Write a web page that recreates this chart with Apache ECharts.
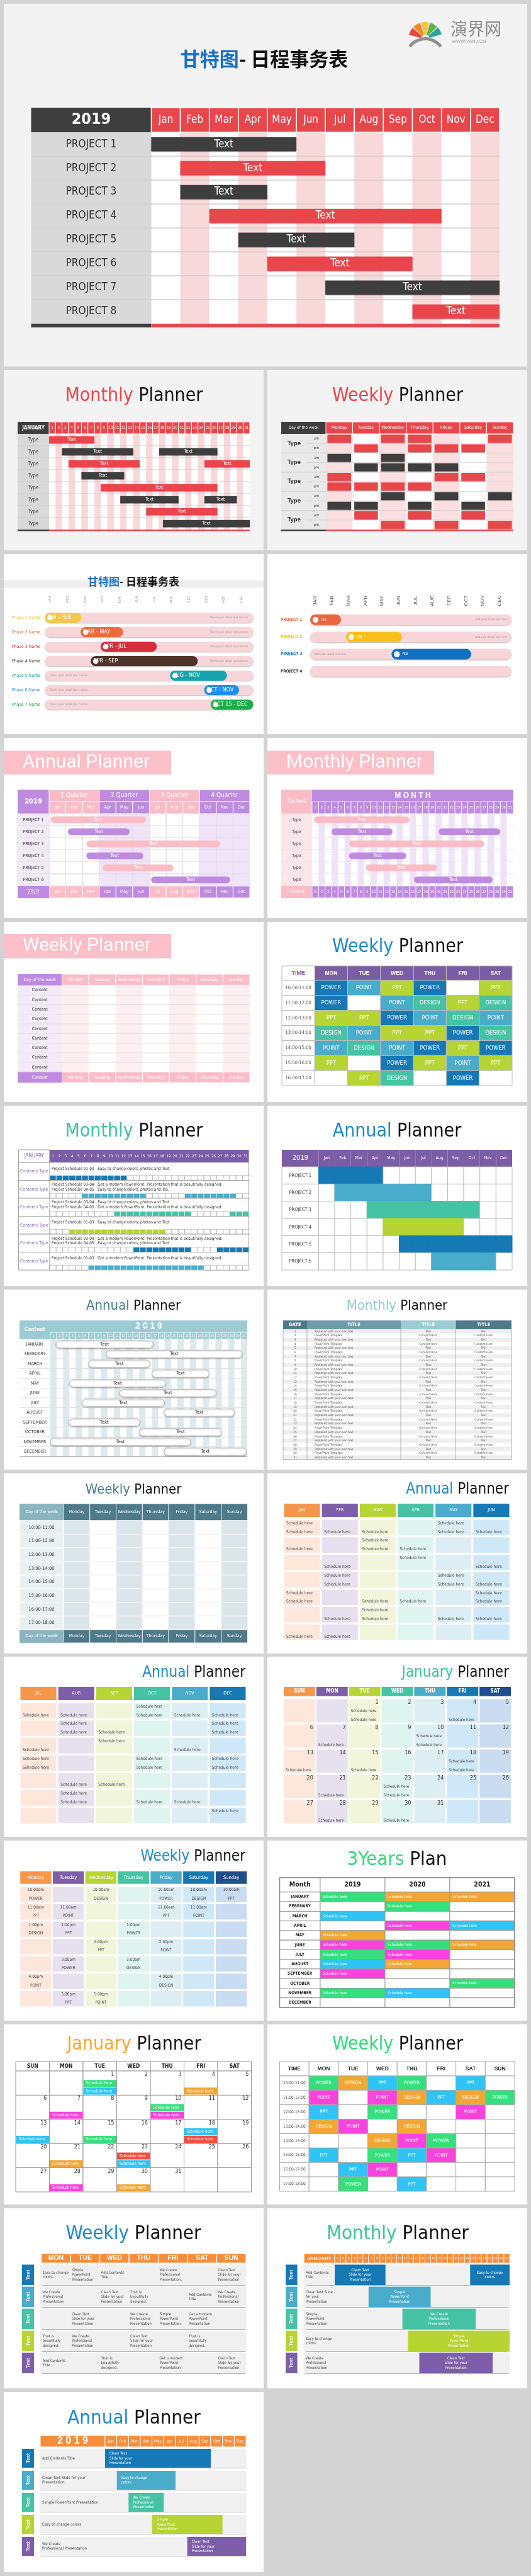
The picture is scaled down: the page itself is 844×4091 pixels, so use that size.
<!DOCTYPE html>
<html><head><meta charset="utf-8">
<script src="https://cdn.jsdelivr.net/npm/echarts@6/dist/echarts.min.js"></script>
<style>html,body{margin:0;padding:0;background:#d3d3d3}#c{width:844px;height:4091px}</style>
</head><body><div id="c"></div>
<script>
// ================= DATA =================
const DAYS31=['1','2','3','4','5','6','7','8','9','10','11','12','13','14','15','16','17','18','19','20','21','22','23','24','25','26','27','28','29','30','31'];
const MONTHS=['Jan','Feb','Mar','Apr','May','Jun','Jul','Aug','Sep','Oct','Nov','Dec'];
const MONTHS_UP=['JAN','FEB','MAR','APR','MAY','JUN','JUL','AUG','SEP','OCT','NOV','DEC'];
const MONTH_NAMES=['JANUARY','FEBRUARY','MARCH','APRIL','MAY','JUNE','JULY','AUGUST','SEPTEMBER','OCTOBER','NOVEMBER','DECEMBER'];
const WEEKDAYS=['Monday','Tuesday','Wednesday','Thursday','Friday','Saturday','Sunday'];

// 1. 甘特图 main
const ganttProjects=['PROJECT 1','PROJECT 2','PROJECT 3','PROJECT 4','PROJECT 5','PROJECT 6','PROJECT 7','PROJECT 8'];
const ganttStart=[0,1,1,2,3,4,6,9];
const ganttEnd=[5,6,4,10,7,9,12,12];
const ganttBarText=['Text','Text','Text','Text','Text','Text','Text','Text'];

// 2L monthly red  [row,startDay,endDay,kind]
const mrTypes=['Type','Type','Type','Type','Type','Type','Type','Type'];
const mrBars=[[0,0,7,'r'],[1,2,13,'d'],[1,17,26,'d'],[2,3,14,'r'],[2,24,31,'r'],[3,5,11.6,'d'],[4,8,26,'r'],[5,11,20,'d'],[5,24,29,'d'],[6,15,26,'r'],[7,17.6,31,'d']];
// 2R weekly red (10 half-day rows)
const wrTypes=['Type','Type','Type','Type','Type'];
const wrSlots=['am','pm'];
const wrRed=[[0,2,3,6],[1,3,4,5],[],[],[0,4,5],[0,1,2,3],[],[],[1,3,5],[2,4,6]];
const wrDark=[[],[],[0,2],[1,2,3,4],[],[],[2,4,6],[0,1,3,5],[],[]];

// 3L phases
const phNames=['Phase 1 Name','Phase 2 Name','Phase 3 Name','Phase 4 Name','Phase 5 Name','Phase 6 Name','Phase 7 Name'];
const phStart=[0,2.05,3.2,2.63,7.2,9.17,9.54];
const phEnd=[2.1,4.5,6.44,8.8,10.48,11.18,12];
const phLabels=['JAN - FEB','MAR - MAY','APR - JUL','APR - SEP','AUG - NOV','OCT - NOV','OCT 15 - DEC'];
const phDetail='This is your detail text column.';
// 3R projects
const prNames=['PROJECT 1','PROJECT 2','PROJECT 3','PROJECT 4'];
const prStart=[0,2.13,4.85];
const prEnd=[1.84,5.48,9.6];
const prLabels=['JAN - FEB','JAN - FEB','JAN - FEB'];
const prDetail='Add your detail text here';

// 4L annual pink
const aqQuarters=['1 Quarter','2 Quarter','3 Quarter','4 Quarter'];
const aqProjects=['PROJECT 1','PROJECT 2','PROJECT 3','PROJECT 4','PROJECT 5','PROJECT 6'];
const aqStart=[0.08,1.13,2.23,2.23,3.2,6.1];
const aqEnd=[5.8,4.82,10.24,5.63,7.45,10.83];
// 4R monthly pink [row,start,end]
const mpTypes=['Type','Type','Type','Type','Type','Type'];
const mpBars=[[0,0.3,15],[1,3,12.4],[1,19.5,29],[2,5.7,26.5],[3,5.7,14.5],[4,8.3,19.2],[5,15.7,27.8]];

// 5L weekly pink
const wpRows=['Content','Content','Content','Content','Content','Content','Content','Content','Content'];
// 5R weekly blue
const wbDays=['MON','TUE','WED','THU','FRI','SAT'];
const wbTimes=['10:00-11:00','11:00-12:00','12:00-13:00','13:00-14:00','14:00-15:00','15:00-16:00','16:00-17:00'];
const wbGrid=[
 ['POWER','POINT','PPT','POWER','','PPT'],
 ['POWER','','POINT','DESIGN','PPT','DESIGN'],
 ['PPT','PPT','POWER','POINT','DESIGN','POINT'],
 ['DESIGN','POINT','PPT','PPT','POWER','DESIGN'],
 ['POINT','DESIGN','POINT','POWER','PPT','POWER'],
 ['PPT','','POWER','PPT','POINT','PPT'],
 ['','PPT','DESIGN','','POWER','']];

// 6L monthly teal schedules
const msText=[
 ['Project Schedule 01-03   Easy to change colors, photos and Text.'],
 ['Project Schedule 03-04   Get a modern PowerPoint  Presentation that is beautifully designed.','Project Schedule 04-05   Easy to change colors, photos and Tex.'],
 ['Project Schedule 03-04   Easy to change colors, photos and Text','Project Schedule 04-05   Get a modern PowerPoint  Presentation that is beautifully designed.'],
 ['Project Schedule 01-03   Easy to change colors, photos and Text'],
 ['Project Schedule 03-04   Get a modern PowerPoint  Presentation that is beautifully designed.','Project Schedule 04-05   Easy to change colors, photos and Text'],
 ['Project Schedule 01-03   Get a modern PowerPoint  Presentation that is beautifully designed.']];
const msSpans=[[[0,12]],[[5,15],[21,29]],[[10,22],[28,31]],[[3,18]],[[13,22],[26,31]],[[6,24]]];
// 6R annual blocks
const abProjects=['PROJECT 1','PROJECT 2','PROJECT 3','PROJECT 4','PROJECT 5','PROJECT 6'];
const abStart=[0,1,3,4,5,7];
const abEnd=[4,7,10,9,12,11];

// 7L annual slate (months x days)
const asStart=[0.9,8.8,6,16,3,10.9,5,17.9,2.9,14,0,17.9];
const asEnd=[16.2,30.2,15.7,25,18.2,26.1,18,29,14.1,27,22.1,30.9];
// 7R monthly table
const mtDates=['1','2','3','4','5','6','7','8','9','10','11','12','13','14','15','16','17','18','19','20','21','22','23','24','25','26','27','28','29','30','31'];
const mtHead=['DATE','TITLE','TITLE','TITLE'];
const mtText1=['Replaced with your own text.','PowerPoint Template'];
const mtText2=['Text','Content Here'];

// 8L weekly slate
const wsTimes=['10:00-11:00','11:00-12:00','12:00-13:00','13:00-14:00','14:00-15:00','15:00-16:00','16:00-17:00','17:00-18:00'];
// 8R / 9L annual colourful ("Schedule here": 0 none,1 top,2 bottom,3 both)
const ahMonths1=['JAN','FEB','MAR','APR','MAY','JUN'];
const ahGrid1=['322032','203200','020102','030032','302203','023022','220000'];
const ahMonths2=['JUL','AUG','SEP','OCT','NOV','DEC'];
const ahGrid2=['220322','032003','201020','300303','022000','030220','000001'];

// 9R January calendar (colourful)  date -> number of entries
const calDays=['SUN','MON','TUE','WED','THU','FRI','SAT'];
const calFirstWeekday=2, calLength=31;
const jcSched={1:2,4:1,7:1,10:2,13:1,15:1,18:2,21:1,23:2,28:1,30:1};

// 10L weekly colourful [row,col,time,label]
const wcEvents=[[0,0,'10:00am','POWER'],[0,2,'10:00am','DESIGN'],[0,4,'10:00am','POWER'],[0,5,'10:00am','DESIGN'],[0,6,'10:00am','PPT'],
 [1,0,'11:00am','PPT'],[1,1,'11:00am','POINT'],[1,4,'11:00am','PPT'],[1,5,'11:00am','POINT'],
 [2,0,'1:00pm','DESIGN'],[2,1,'1:00pm','PPT'],[2,3,'1:00pm','POWER'],
 [3,2,'2:00pm','PPT'],[3,4,'2:00pm','POINT'],
 [4,1,'3:00pm','POWER'],[4,3,'3:00pm','DESIGN'],
 [5,0,'4:00pm','POINT'],[5,4,'4:00pm','DESIGN'],
 [6,1,'5:00pm','PPT'],[6,2,'5:00pm','POINT']];
// 10R 3 years plan
const ypYears=['2019','2020','2021'];
const ypGrid=['GOO','-G-','C--','-MC','O--','MGO','GM-','CO-','M--','--G','GC-','---'];

// 11L January calendar [date,slot,colour]
const jeEvents=[[1,1,'G'],[1,2,'C'],[4,2,'O'],[7,2,'M'],[10,1,'G'],[10,2,'M'],[13,2,'C'],[15,2,'G'],[18,1,'C'],[18,2,'R'],[21,2,'O'],[23,1,'R'],[23,2,'C'],[28,2,'M'],[30,2,'O']];
// 11R weekly green
const wgDays=['MON','TUE','WED','THU','FRI','SAT','SUN'];
const wgGrid=[
 ['POWER','DESIGN','PPT','POWER','','PPT',''],
 ['POINT','','POINT','DESIGN','PPT','DESIGN','POWER'],
 ['PPT','','POWER','','','POINT',''],
 ['DESIGN','POINT','','DESIGN','','',''],
 ['','','DESIGN','POINT','POWER','',''],
 ['PPT','','POWER','PPT','POINT','',''],
 ['','PPT','POINT','','','',''],
 ['','POWER','','PPT','','','']];

// 12L weekly orange
const woDays=['MON','TUE','WED','THU','FRI','SAT','SUN'];
const woTexts=[
 ['Easy to change\ncolors.','Simple\nPowerPoint\nPresentation','Add Contents\nTitle','','We Create\nProfessional\nPresentation.','','Clean Text\nSlide for your\nPresentation'],
 ['We Create\nProfessional\nPresentation','','Clean Text\nSlide for your\nPresentation','That is\nbeautifully\ndesigned.','','Add Contents\nTitle','We Create\nProfessional\nPresentation'],
 ['','Clean Text\nSlide for your\nPresentation','','We Create\nProfessional\nPresentation','Simple\nPowerPoint\nPresentation','Get a modern\nPowerPoint\nPresentation',''],
 ['That is\nbeautifully\ndesigned.','We Create\nProfessional\nPresentation','','Clean Text\nSlide for your\nPresentation','','That is\nbeautifully\ndesigned.',''],
 ['Add Contents\nTitle','','That is\nbeautifully\ndesigned.','','Get a modern\nPowerPoint\nPresentation','','Clean Text\nSlide for your\nPresentation']];
// 12R monthly orange
const moLabels=['Add Contents\nTitle','Clean Text Slide\nfor your\nPresentation','Simple\nPowerPoint\nPresentation','Easy to change\ncolors','We Create\nProfessional\nPresentation'];
const moBars=[[0,0,9,'Clean Text\nSlide for your\nPresentation'],[0,24,31,'Easy to change\ncolors'],[1,6,17,'Simple\nPowerPoint\nPresentation'],[2,12,25,'We Create\nProfessional\nPresentation'],[3,13,31,'Simple\nPowerPoint\nPresentation'],[4,15,28,'Clean Text\nSlide for your\nPresentation']];
// 13 annual orange
const aoLabels=['Add Contents Title','Clean Text Slide for your\nPresentation','Simple PowerPoint Presentation','Easy to change colors','We Create\nProfessional Presentation'];
const aoStart=[0,1,2,4,7];
const aoEnd=[9,6,5,10,12];
const aoText=['Clean Text\nSlide for your\nPresentation','Easy to change\ncolors','We Create\nProfessional\nPresentation','Simple\nPowerPoint\nPresentation','Clean Text\nSlide for your\nPresentation'];

// ================= STYLE =================
const NF="'Liberation Sans Narrow','DejaVu Sans Condensed','Liberation Sans',Arial,sans-serif";
const SF="'Liberation Sans',Arial,'DejaVu Sans',sans-serif";
const RF="Roboto,'Liberation Sans',sans-serif";
const CJK="'Noto Sans CJK SC','Noto Sans',sans-serif";
const RED='#e8464b', DARK='#3e3e3e', PUR='#bf8be0', PINK='#fbbcc6';
const BLUE_T='#1e88c8', TEAL_T='#3ec1a1', SLATE='#4e7a8a';
const KEYC={POWER:'#1679b6',POINT:'#4aaccb',PPT:'#b6d433',DESIGN:'#46c3a4'};
const HEAD7=['#f5964b','#7e5ea8','#b6d433','#46c3a4','#4aaccb','#1679b6','#1f4e8c'];
const SOFT7=['#fde7da','#e7e1ef','#f1f6da','#def4ee','#dceef4','#cfe8f8','#c9dcf1'];
const VIVID={G:'#35e07c',O:'#f2a735',M:'#fa42dc',C:'#2fc4f5',R:'#f24f3c'};
const VKEY={POWER:'G',DESIGN:'O',PPT:'C',POINT:'M'};
const TAB5=['#1679b6','#4aaccb','#46c3a4','#b6d433','#7e5ea8'];
const ORANGE='#f68d3a';

// ================= ENGINE =================
const grids=[],xAxes=[],yAxes=[],series=[],graphics=[];
function C(x0,x1,y0,y1,o){return Object.assign({x0:x0,x1:x1,y0:y0,y1:y1},o||{});}
function renderCell(c,api){
  const p0=api.coord([c.x0,c.y0]), p1=api.coord([c.x1,c.y1]);
  let x=Math.min(p0[0],p1[0]), y=Math.min(p0[1],p1[1]), w=Math.abs(p1[0]-p0[0]), h=Math.abs(p1[1]-p0[1]);
  const ix=c.ix||0, iy=c.iy||0; x+=ix; w-=2*ix; y+=iy; h-=2*iy;
  const ch=[];
  if(c.line){
    ch.push({type:'line',shape:{x1:p0[0],y1:p0[1],x2:p1[0],y2:p1[1]},style:{stroke:c.stroke,lineWidth:c.lw||1}});
  } else if(c.fill||c.stroke){
    const st={fill:c.fill||'none',stroke:c.stroke||'none',lineWidth:c.lw||1};
    if(c.shadow){st.shadowBlur=c.shadow;st.shadowColor='rgba(0,0,0,0.28)';st.shadowOffsetY=1;}
    ch.push({type:'rect',shape:{x:x,y:y,width:w,height:h,r:c.r||0},style:st});
  }
  if(c.text!=null&&c.text!==''){
    const al=c.align||'center', va=c.va||'middle', px=c.px!=null?c.px:3, py=c.py!=null?c.py:2, fs=c.fs||10;
    const tx=al==='left'?x+px:al==='right'?x+w-px:x+w/2;
    const ty=va==='top'?y+py:va==='bottom'?y+h-py:y+h/2;
    ch.push({type:'text',x:tx,y:ty,rotation:c.rot||0,style:{text:c.text,fill:c.tc||'#333',fontSize:fs,fontFamily:c.ff||NF,fontWeight:c.fw||'normal',align:al,verticalAlign:va,lineHeight:c.lh||Math.round(fs*1.18)}});
  }
  if(c.dot){ch.push({type:'circle',shape:{cx:x+h*0.5,cy:y+h/2,r:h*0.27},style:{fill:'#fff'}});}
  return {type:'group',children:ch};
}
function addTable(box,xr,yr,cells){
  const gi=grids.length;
  grids.push({left:box[0],top:box[1],width:box[2]-box[0],height:box[3]-box[1]});
  xAxes.push({type:'value',gridIndex:gi,min:xr[0],max:xr[1],show:false,splitLine:{show:false}});
  yAxes.push({type:'value',gridIndex:gi,min:yr[0],max:yr[1],inverse:true,show:false,splitLine:{show:false}});
  series.push({type:'custom',coordinateSystem:'cartesian2d',xAxisIndex:gi,yAxisIndex:gi,silent:true,animation:false,clip:false,progressive:0,
    data:cells.map(c=>[c.x0,c.y0,c.x1,c.y1]),encode:{x:[0,2],y:[1,3]},
    renderItem:(p,api)=>renderCell(cells[p.dataIndex],api)});
}
function title2(x,y,a,ca,b,cb,fs,align,ff,fw){
  graphics.push({type:'text',x:x,y:y,z:50,style:{text:'{a|'+a+'}{b|'+b+'}',
    rich:{a:{fill:ca,fontSize:fs,fontFamily:ff||NF,fontWeight:fw||'normal'},b:{fill:cb,fontSize:fs,fontFamily:ff||NF,fontWeight:fw||'normal'}},
    align:align||'center',verticalAlign:'middle'}});
}
function banner(x,y,w,h,txt){
  graphics.push({type:'rect',z:1,shape:{x:x,y:y,width:w,height:h},style:{fill:'#fbbfc8'}});
  graphics.push({type:'text',z:50,x:x+30,y:y+h/2,style:{text:txt,fill:'#fff',fontSize:30,fontFamily:RF,align:'left',verticalAlign:'middle'}});
}

// ================= PANELS (backgrounds) =================
const RY=[588,880,1172,1464,1756,2048,2340,2631,2923,3215,3507,3799];
graphics.push({type:'rect',z:0,shape:{x:6,y:6,width:832,height:576},style:{fill:'#f3f3f3'}});
RY.forEach((y,i)=>{
  const f=i===0?'#f3f3f3':'#ffffff';
  graphics.push({type:'rect',z:0,shape:{x:6,y:y,width:413,height:286},style:{fill:f}});
  if(i<11) graphics.push({type:'rect',z:0,shape:{x:425,y:y,width:413,height:286},style:{fill:f}});
});

// ================= 1. main gantt =================
title2(420,93,'甘特图','#1a6fc0','- 日程事务表','#111',31,'center',CJK,'bold');
// logo
['#e8463c','#f08a2c','#f6c342','#5fb246','#2aa3a0'].forEach((col,i)=>{
  const a0=Math.PI*1.08+i*Math.PI*0.17;
  graphics.push({type:'sector',z:5,shape:{cx:676,cy:62,r:27,r0:7,startAngle:a0,endAngle:a0+Math.PI*0.15},style:{fill:col}});
});
graphics.push({type:'sector',z:6,shape:{cx:676,cy:92,r:33,r0:28,startAngle:Math.PI*1.2,endAngle:Math.PI*1.8},style:{fill:'#8f8f8f'}});
graphics.push({type:'text',z:6,x:716,y:46,style:{text:'演界网',fill:'#8a8a8a',fontSize:27,fontFamily:CJK,align:'left',verticalAlign:'middle'}});
graphics.push({type:'text',z:6,x:718,y:66,style:{text:'WWW.YANJ.CN',fill:'#999',fontSize:7.5,fontFamily:SF,align:'left',verticalAlign:'middle'}});
{
  const L=-4.14, cells=[];
  cells.push(C(L,0,-1.03,0,{fill:DARK,text:'2019',tc:'#fff',fs:25,fw:'bold'}));
  MONTHS.forEach((m,i)=>cells.push(C(i,i+1,0,8,{fill:i%2?'#f9d8da':'#ffffff'})));
  MONTHS.forEach((m,i)=>cells.push(C(i,i+1,-1.03,0,{fill:RED,stroke:'#fff',lw:1.5,text:m,tc:'#fff',fs:17})));
  cells.push(C(L,0,0,8,{fill:'#d9d9d9'}));
  ganttProjects.forEach((p,r)=>cells.push(C(L,0,r,r+1,{text:p,tc:'#333',fs:17})));
  for(let r=1;r<8;r++) cells.push(C(L,12,r,r,{line:true,stroke:'#cfcfcf',lw:1.5}));
  cells.push(C(L,0,8,8.16,{fill:DARK})); cells.push(C(0,12,8,8.16,{fill:RED}));
  ganttProjects.forEach((p,r)=>cells.push(C(ganttStart[r],ganttEnd[r],r+0.2,r+0.8,{fill:r%2?RED:DARK,text:ganttBarText[r],tc:'#fff',fs:17,shadow:2})));
  addTable([49.5,171,793.9,520],[L,12],[-1.03,8.16],cells);
}

// ================= 2L monthly red =================
title2(213,629,'Monthly',RED,' Planner','#111',30);
{
  const L=-4.86, cells=[];
  cells.push(C(L,0,-1,0,{fill:DARK,text:'JANUARY',tc:'#fff',fs:8,fw:'bold'}));
  DAYS31.forEach((d,i)=>{
    cells.push(C(i,i+1,0,8,{fill:i%2?'#f9d8da':'#ffffff'}));
    cells.push(C(i,i+1,-1,0,{fill:RED,stroke:'#fff',lw:1,text:d,tc:'#fff',fs:6}));
  });
  cells.push(C(L,0,0,8,{fill:'#d9d9d9'}));
  mrTypes.forEach((t,r)=>cells.push(C(L,0,r,r+1,{text:t,tc:'#444',fs:8})));
  for(let r=1;r<8;r++) cells.push(C(L,31,r,r,{line:true,stroke:'#cfcfcf',lw:1}));
  cells.push(C(L,0,8,8.13,{fill:DARK})); cells.push(C(0,31,8,8.13,{fill:RED}));
  mrBars.forEach(b=>cells.push(C(b[1],b[2],b[0]+0.2,b[0]+0.8,{fill:b[3]==='r'?RED:DARK,text:'Text',tc:'#fff',fs:7.5,shadow:1})));
  addTable([28,670,397,843.5],[L,31],[-1,8.13],cells);
}
// ================= 2R weekly red =================
title2(632,629,'Weekly',RED,' Planner','#111',30);
{
  const L=-1.668, M=-0.705, cells=[];
  cells.push(C(L,0,-1.25,0,{fill:DARK,text:'Day of the week',tc:'#fff',fs:6.5}));
  WEEKDAYS.forEach((d,i)=>{
    cells.push(C(i,i+1,0,10,{fill:i%2?'#ffffff':'#fbdfe0'}));
    cells.push(C(i,i+1,-1.25,0,{fill:RED,stroke:'#fff',lw:1,text:d,tc:'#fff',fs:7}));
  });
  cells.push(C(L,0,0,10,{fill:'#e9e9e9'}));
  wrTypes.forEach((t,k)=>{
    cells.push(C(L,M,2*k,2*k+2,{text:t,tc:'#333',fs:9,fw:'bold'}));
    wrSlots.forEach((s,j)=>cells.push(C(M,0,2*k+j,2*k+j+1,{text:s,tc:'#444',fs:6})));
  });
  for(let r=1;r<10;r++) cells.push(C(r%2?M:L,7,r,r,{line:true,stroke:'#d4d4d4',lw:r%2?0.8:1.2}));
  cells.push(C(L,0,10,10.16,{fill:DARK})); cells.push(C(0,7,10,10.16,{fill:RED}));
  wrRed.forEach((cols,r)=>cols.forEach(c=>cells.push(C(c+0.06,c+0.94,r+0.08,r+0.92,{fill:RED,shadow:1}))));
  wrDark.forEach((cols,r)=>cols.forEach(c=>cells.push(C(c+0.06,c+0.94,r+0.08,r+0.92,{fill:DARK,shadow:1}))));
  addTable([447,670,816,843.5],[L,7],[-1.25,10.16],cells);
}

// ================= 3L phases =================
graphics.push({type:'rect',z:1,shape:{x:6,y:921.5,width:413,height:12},style:{fill:'#efefef'}});
title2(212,924,'甘特图','#1a6fc0','- 日程事务表','#111',17,'center',CJK,'bold');
{
  const PHC=['#f2c94c','#ef6a3a','#d42e3c','#4e3329','#17a2b0','#1e8ff0','#1aae48'];
  const cells=[];
  MONTHS_UP.forEach((m,i)=>cells.push(C(i+0.05,i+0.55,-1.25,-0.3,{text:m,rot:Math.PI/2,tc:'#9a9a9a',fs:5.5,ff:SF})));
  phNames.forEach((n,r)=>{
    cells.push(C(-2,-0.15,r,r+1,{text:n,tc:PHC[r],fs:7,align:'left',px:2.5}));
    cells.push(C(0,12,r+0.15,r+0.85,{fill:'#f8d5d8',r:8,shadow:2}));
    cells.push(C(0,12,r+0.15,r+0.85,{text:phDetail,tc:'#9a9a9a',fs:4.5,align:r<4?'right':'left',px:7}));
    cells.push(C(phStart[r],phEnd[r],r+0.15,r+0.85,{fill:PHC[r],r:8,text:phLabels[r],tc:'#fff',fs:9,align:'left',px:4,dot:true}));
  });
  addTable([16.4,939.6,402.6,1130.5],[-2,12],[-1.3,7],cells);
}
// ================= 3R projects =================
{
  const PRC=['#ec6440','#fbbf1a','#1270c0','#333333'];
  const cells=[];
  MONTHS_UP.forEach((m,i)=>cells.push(C(i+0.05,i+0.5,-1.1,-0.1,{text:m,rot:Math.PI/2,tc:'#555',fs:8,ff:SF})));
  prNames.forEach((n,r)=>{
    cells.push(C(-1.8,-0.1,r,r+1,{text:n,tc:PRC[r],fs:6.5,fw:'bold',align:'left',px:1}));
    cells.push(C(0,12,r+0.2,r+0.82,{fill:'#f8d5d8',r:9,shadow:2}));
    if(r<3){
      cells.push(C(0,12,r+0.2,r+0.82,{text:prDetail,tc:'#9a9a9a',fs:4.5,align:r<2?'right':'left',px:7}));
      cells.push(C(prStart[r],prEnd[r],r+0.2,r+0.82,{fill:PRC[r],r:9,text:prLabels[r],tc:'#fff',fs:5,align:'left',px:5,dot:true}));
    }
  });
  addTable([445,939,813,1079.6],[-1.8,12],[-1.15,4],cells);
}

// ================= 4L annual pink =================
banner(6,1192,266,38,'Annual Planner');
{
  const L=-1.88, cells=[];
  cells.push(C(L,0,-2,0,{fill:PUR,text:'2019',tc:'#fff',fs:11,fw:'bold'}));
  aqQuarters.forEach((q,k)=>cells.push(C(3*k,3*k+3,-2,-1,{fill:k%2?PUR:PINK,stroke:'#fff',lw:1,text:q,tc:'#fff',fs:10})));
  MONTHS.forEach((m,i)=>{
    const qc=Math.floor(i/3)%2;
    cells.push(C(i,i+1,-1,0,{fill:qc?PUR:PINK,stroke:'#fff',lw:1,text:m,tc:'#fff',fs:7}));
    cells.push(C(i,i+1,0,6,{fill:qc?'#f0e4f8':'#ffffff'}));
    cells.push(C(i,i+1,6,7,{fill:qc?PUR:PINK,stroke:'#fff',lw:1,text:m,tc:'#fff',fs:7}));
  });
  for(let r=0;r<6;r++) for(let i=0;i<12;i++) cells.push(C(i,i+1,r,r+1,{stroke:'#e6dcef',lw:1}));
  aqProjects.forEach((p,r)=>cells.push(C(L,0,r,r+1,{fill:'#f3eaf8',stroke:'#e6dcef',text:p,tc:'#333',fs:7})));
  cells.push(C(L,0,6,7,{fill:PUR,text:'2019',tc:'#fff',fs:8}));
  aqProjects.forEach((p,r)=>cells.push(C(aqStart[r],aqEnd[r],r+0.22,r+0.78,{fill:r%2?PUR:'#fbbcc6',r:6,text:'Text',tc:'#fff',fs:7.5})));
  addTable([28,1254,397,1426],[L,12],[-2,7],cells);
}
// ================= 4R monthly pink =================
banner(425,1192,265,38,'Monthly Planner');
{
  const L=-4.75, cells=[];
  cells.push(C(L,0,-2,0,{fill:PINK,text:'Content',tc:'#fff',fs:8}));
  cells.push(C(0,31,-2,-1,{fill:PUR,text:'M O N T H',tc:'#fff',fs:12,fw:'bold',ff:SF}));
  DAYS31.forEach((d,i)=>{
    cells.push(C(i,i+1,0,6,{fill:i%2?'#efe3f8':'#ffffff'}));
    cells.push(C(i,i+1,-1,0,{fill:PUR,stroke:'#fff',lw:0.8,text:d,tc:'#fff',fs:5.5}));
    cells.push(C(i,i+1,6,7,{fill:PUR,stroke:'#fff',lw:0.8,text:d,tc:'#fff',fs:5.5}));
  });
  mpTypes.forEach((t,r)=>cells.push(C(L,0,r,r+1,{fill:'#fde6ea',text:t,tc:'#444',fs:7})));
  for(let r=1;r<6;r++) cells.push(C(L,31,r,r,{line:true,stroke:'#ece3f1',lw:1}));
  cells.push(C(L,0,6,7,{fill:PINK,text:'Content',tc:'#fff',fs:7}));
  mpBars.forEach(b=>cells.push(C(b[1],b[2],b[0]+0.22,b[0]+0.78,{fill:b[0]%2?PUR:'#fbbcc6',r:6,text:'Text',tc:'#fff',fs:7.5})));
  addTable([447,1254,816,1426],[L,31],[-2,7],cells);
}

// ================= 5L weekly pink =================
banner(6,1483,266,39,'Weekly Planner');
{
  const L=-1.654, cells=[];
  cells.push(C(L,0,-1.18,0,{fill:PUR,text:'Day of the week',tc:'#fff',fs:7}));
  WEEKDAYS.forEach((d,i)=>{
    cells.push(C(i,i+1,0,9,{fill:i%2?'#ffffff':'#fdeef1'}));
    cells.push(C(i,i+1,-1.18,0,{fill:PINK,stroke:'#fff',lw:1,text:d,tc:'#fff',fs:7}));
    cells.push(C(i,i+1,9,10.11,{fill:PINK,stroke:'#fff',lw:1,text:d,tc:'#fff',fs:7}));
  });
  wpRows.forEach((t,r)=>cells.push(C(L,0,r,r+1,{fill:'#f3eaf8',text:t,tc:'#333',fs:7})));
  for(let r=1;r<9;r++) cells.push(C(L,7,r,r,{line:true,stroke:'#e4e4e4',lw:1.2}));
  cells.push(C(L,0,9,10.11,{fill:PUR,text:'Content',tc:'#fff',fs:7}));
  addTable([28,1547,397,1719.5],[L,7],[-1.18,10.11],cells);
}
// ================= 5R weekly blue =================
title2(632,1504,'Weekly',BLUE_T,' Planner','#111',30);
{
  const cells=[];
  cells.push(C(-1,0,-0.96,0,{fill:'#fff',stroke:'#bbb',text:'TIME',tc:'#7e5ea8',fs:9,fw:'bold',ff:SF}));
  wbDays.forEach((d,i)=>cells.push(C(i,i+1,-0.96,0,{fill:'#7b5da6',stroke:'#bbb',text:d,tc:'#fff',fs:8.5,fw:'bold',ff:SF})));
  wbTimes.forEach((t,r)=>{
    cells.push(C(-1,0,r,r+1,{fill:'#fff',stroke:'#bbb',text:t,tc:'#555',fs:7.5}));
    wbGrid[r].forEach((k,i)=>cells.push(C(i,i+1,r,r+1,{fill:k?KEYC[k]:'#fff',stroke:'#bbb',text:k,tc:'#fff',fs:9.5})));
  });
  addTable([448,1534,814,1724],[-1,6],[-0.96,7],cells);
}

// ================= 6L monthly teal =================
title2(213,1797,'Monthly',TEAL_T,' Planner','#111',30);
{
  const L=-4.84, cells=[];
  const MSC=['#1679b6','#4aaccb','#46c3a4','#b6d433','#1679b6','#4aaccb'];
  cells.push(C(L,0,-0.7,0,{fill:'#fff',stroke:'#999',text:'JANUARY',tc:'#7e5ea8',fs:8}));
  cells.push(C(0,31,-0.7,0,{fill:'#7b5da6'}));
  DAYS31.forEach((d,i)=>cells.push(C(i,i+1,-0.7,0,{text:d,tc:'#fff',fs:6})));
  msText.forEach((lines,r)=>{
    cells.push(C(L,31,r,r+1,{fill:'#fff',stroke:'#999',lw:1}));
    cells.push(C(L,0,r,r+1,{text:'Contents Type',tc:'#8a6bb5',fs:7}));
    lines.forEach((t,j)=>{
      const yc=lines.length===1?0.36:(j===0?0.24:0.52);
      cells.push(C(0,31,r+yc-0.12,r+yc+0.12,{text:t,tc:'#333',fs:6.5,align:'left',px:3}));
    });
    for(let i=0;i<31;i++){
      const on=msSpans[r].some(s=>i>=s[0]&&i<s[1]);
      cells.push(C(i,i+1,r+0.73,r+1,{fill:on?MSC[r]:'#fff',stroke:on?'#fff':'#9a9a9a',lw:0.6}));
    }
  });
  cells.push(C(0,0,-0.7,6,{line:true,stroke:'#999',lw:1}));
  addTable([29.6,1826,395.6,2017],[L,31],[-0.7,6],cells);
}
// ================= 6R annual blocks =================
title2(631,1797,'Annual',BLUE_T,' Planner','#111',30);
{
  const L=-2.28, cells=[];
  const ABC=['#1679b6','#4aaccb','#46c3a4','#b6d433','#1679b6','#4aaccb'];
  cells.push(C(L,0,-0.99,0,{fill:'#7b5da6',text:'2019',tc:'#fff',fs:11}));
  MONTHS.forEach((m,i)=>cells.push(C(i,i+1,-0.99,0,{fill:'#7b5da6',text:m,tc:'#fff',fs:7})));
  abProjects.forEach((p,r)=>{
    cells.push(C(L,0,r,r+1,{fill:'#fff',stroke:'#bdbdbd',text:p,tc:'#333',fs:7.5}));
    for(let i=0;i<12;i++){
      const on=i>=abStart[r]&&i<abEnd[r];
      cells.push(C(i,i+1,r,r+1,{fill:on?ABC[r]:'#fff',stroke:on?ABC[r]:'#bdbdbd',lw:1}));
    }
  });
  addTable([448,1826,814,2017],[L,12],[-0.99,6],cells);
}

// ================= 7L annual slate =================
title2(212,2074,'Annual','#4b7d8c',' Planner','#111',22);
{
  const L=-4.85, cells=[];
  const LT='#9ccbd3';
  cells.push(C(L,0,-1.94,0,{fill:LT,text:'Content',tc:'#fff',fs:8,fw:'bold'}));
  cells.push(C(0,31,-1.94,-0.71,{fill:LT,text:'2 0 1 9',tc:'#fff',fs:14,fw:'bold',ff:SF}));
  DAYS31.forEach((d,i)=>{
    cells.push(C(i,i+1,-0.71,0,{fill:LT,stroke:'#fff',lw:0.8,text:d,tc:'#fff',fs:5}));
    cells.push(C(i,i+1,0,12,{fill:i%2?'#ffffff':'#dde9ed'}));
  });
  MONTH_NAMES.forEach((m,r)=>cells.push(C(L,0,r,r+1,{fill:'#fff',text:m,tc:'#333',fs:7})));
  for(let r=1;r<12;r++) cells.push(C(L,31,r,r,{line:true,stroke:'#e2e2e2',lw:1}));
  cells.push(C(L,31,12,12,{line:true,stroke:'#888',lw:1}));
  MONTH_NAMES.forEach((m,r)=>cells.push(C(asStart[r],asEnd[r],r+0.12,r+0.88,{fill:'#fff',stroke:'#c4c4c4',lw:1,r:6,shadow:2,text:'Text',tc:'#333',fs:7.5})));
  addTable([31,2097,393,2313],[L,31],[-1.94,12],cells);
}
// ================= 7R monthly table =================
title2(631,2074,'Monthly','#8ccad6',' Planner','#111',22);
{
  const cols=[0,38,187,274.5,363], cells=[];
  const HC=['#4e7a8a','#6e9aa9','#9ccbd3','#4e7a8a'];
  mtHead.forEach((h,i)=>cells.push(C(cols[i],cols[i+1],-2.1,0,{fill:HC[i],text:h,tc:'#fff',fs:7.5,fw:'bold'})));
  mtDates.forEach((d,r)=>{
    cells.push(C(0,363,r,r+1,{fill:r%2?'#ffffff':'#eeeeee'}));
    cells.push(C(0,38,r,r+1,{text:d,tc:'#555',fs:4.8}));
    cells.push(C(38,187,r,r+1,{text:mtText1[r%2],tc:'#555',fs:4.8,align:'left',px:12}));
    cells.push(C(187,274.5,r,r+1,{text:mtText2[r%2],tc:'#555',fs:4.8}));
    cells.push(C(274.5,363,r,r+1,{text:mtText2[r%2],tc:'#555',fs:4.8}));
  });
  cols.forEach(x=>cells.push(C(x,x,0,31,{line:true,stroke:'#999',lw:0.8})));
  cells.push(C(0,363,31,31,{line:true,stroke:'#999',lw:1}));
  addTable([450,2097,813,2318],[0,363],[-2.1,31],cells);
}

// ================= 8L weekly slate =================
title2(212,2366,'Weekly','#4b7d8c',' Planner','#111',22);
{
  const L=-1.675, cells=[];
  cells.push(C(L,0,-1.25,0,{fill:'#8ab5c0',text:'Day of the week',tc:'#fff',fs:7}));
  cells.push(C(L,0,8,8.97,{fill:'#8ab5c0',text:'Day of the week',tc:'#fff',fs:7}));
  WEEKDAYS.forEach((d,i)=>{
    cells.push(C(i,i+1,-1.25,0,{fill:SLATE,stroke:'#fff',lw:0.8,text:d,tc:'#fff',fs:7}));
    cells.push(C(i,i+1,8,8.97,{fill:SLATE,stroke:'#fff',lw:0.8,text:d,tc:'#fff',fs:7}));
    for(let r=0;r<8;r++) cells.push(C(i,i+1,r,r+1,{fill:i%2?'#ffffff':'#dae6ea',stroke:'#f4f4f4',lw:1.5}));
  });
  wsTimes.forEach((t,r)=>cells.push(C(L,0,r,r+1,{fill:'#e8f0f2',stroke:'#fff',lw:1.5,text:t,tc:'#333',fs:7.5})));
  addTable([31,2388,393.5,2609],[L,7],[-1.25,8.97],cells);
}
// ================= 8R / 9L annual colourful =================
function annualColour(box,months,grid){
  const cells=[];
  months.forEach((m,c)=>cells.push(C(c,c+1,-0.87,-0.11,{fill:HEAD7[c],ix:1.5,text:m,tc:'#fff',fs:7})));
  grid.forEach((row,r)=>row.split('').forEach((v,c)=>{
    cells.push(C(c,c+1,r,r+1,{fill:SOFT7[c],ix:1.5,iy:1.5}));
    const n=+v;
    if(n===1||n===3) cells.push(C(c,c+1,r+0.05,r+0.45,{text:'Schedule here',tc:'#444',fs:6.5,align:'left',px:5}));
    if(n===2||n===3) cells.push(C(c,c+1,r+0.55,r+0.95,{text:'Schedule here',tc:'#444',fs:6.5,align:'left',px:5}));
  }));
  addTable(box,[0,6],[-0.87,7],cells);
}
title2(809,2366,'Annual',BLUE_T,' Planner','#111',24,'right');
annualColour([450,2388,811,2606],ahMonths1,ahGrid1);
title2(390,2657,'Annual',BLUE_T,' Planner','#111',24,'right');
annualColour([31,2679,392,2897],ahMonths2,ahGrid2);

// ================= 9R January calendar colourful =================
title2(809,2657,'January',TEAL_T,' Planner','#111',24,'right');
{
  const cells=[];
  calDays.forEach((d,c)=>cells.push(C(c,c+1,-0.45,-0.08,{fill:HEAD7[c],ix:1,text:d,tc:'#fff',fs:8,fw:'bold'})));
  for(let r=0;r<5;r++) for(let c=0;c<7;c++){
    cells.push(C(c,c+1,r,r+1,{fill:SOFT7[c],ix:1,iy:1.5}));
    const date=r*7+c-calFirstWeekday+1;
    if(date>=1&&date<=calLength){
      cells.push(C(c,c+1,r,r+0.32,{text:String(date),tc:'#333',fs:9,align:'right',px:4}));
      const n=jcSched[date]||0;
      if(n===2) cells.push(C(c,c+1,r+0.38,r+0.64,{text:'Schedule here',tc:'#444',fs:6.3,align:'left',px:4}));
      if(n>=1) cells.push(C(c,c+1,r+0.72,r+0.98,{text:'Schedule here',tc:'#444',fs:6.3,align:'left',px:4}));
    }
  }
  addTable([450,2679,813,2897],[0,7],[-0.45,5],cells);
}

// ================= 10L weekly colourful =================
title2(390,2949,'Weekly',BLUE_T,' Planner','#111',24,'right');
{
  const cells=[];
  WEEKDAYS.forEach((d,c)=>{
    cells.push(C(c,c+1,-0.83,-0.11,{fill:HEAD7[c],ix:1.2,text:d,tc:'#fff',fs:7.5}));
    for(let r=0;r<7;r++) cells.push(C(c,c+1,r,r+1,{fill:SOFT7[c],ix:1.2,iy:1.5}));
  });
  wcEvents.forEach(e=>{
    cells.push(C(e[1],e[1]+1,e[0]+0.05,e[0]+0.45,{text:e[2],tc:'#444',fs:6.5}));
    cells.push(C(e[1],e[1]+1,e[0]+0.53,e[0]+0.93,{text:e[3],tc:'#444',fs:6.5}));
  });
  addTable([31,2972,393.5,3188],[0,7],[-0.83,7],cells);
}
// ================= 10R 3 years plan =================
title2(631,2954,'3Years','#33d97a',' Plan','#111',31);
{
  const L=-0.626, cells=[];
  cells.push(C(L,0,-1.5,0,{fill:'#fff',stroke:'#9a9a9a',lw:1,text:'Month',tc:'#222',fs:10.5,fw:'bold'}));
  ypYears.forEach((y,i)=>cells.push(C(i,i+1,-1.5,0,{fill:'#fff',stroke:'#9a9a9a',lw:1,text:y,tc:'#222',fs:10.5,fw:'bold'})));
  MONTH_NAMES.forEach((m,r)=>{
    cells.push(C(L,0,r,r+1,{fill:'#fff',stroke:'#9a9a9a',lw:1,text:m,tc:'#222',fs:6.5,fw:'bold'}));
    ypGrid[r].split('').forEach((k,i)=>{
      const f=VIVID[k];
      cells.push(C(i,i+1,r,r+1,{fill:f||'#fff',stroke:'#9a9a9a',lw:1,text:f?'Schedule here':'',tc:'#fff',fs:6,align:'left',px:4}));
    });
  });
  cells.push(C(L,3,-1.5,12,{stroke:'#888',lw:1.5}));
  addTable([444.5,2982,818,3188],[L,3],[-1.5,12],cells);
}

// ================= 11L January planner =================
title2(213,3247,'January','#f2a735',' Planner','#111',30);
{
  const cells=[];
  calDays.forEach((d,c)=>cells.push(C(c,c+1,-0.39,0,{fill:'#fff',stroke:'#999',lw:1,text:d,tc:'#222',fs:8.5,fw:'bold'})));
  for(let r=0;r<5;r++) for(let c=0;c<7;c++){
    cells.push(C(c,c+1,r,r+1,{fill:'#fff',stroke:'#999',lw:1}));
    const date=r*7+c-calFirstWeekday+1;
    if(date>=1&&date<=calLength) cells.push(C(c,c+1,r,r+0.3,{text:String(date),tc:'#333',fs:9,align:'right',px:4}));
  }
  jeEvents.forEach(e=>{
    const idx=e[0]+calFirstWeekday-1, r=Math.floor(idx/7), c=idx%7;
    const y0=e[1]===1?0.37:0.685;
    cells.push(C(c,c+1,r+y0,r+y0+0.29,{fill:VIVID[e[2]],ix:0.5,text:'Schedule here',tc:'#fff',fs:6.5,align:'left',px:4}));
  });
  addTable([25,3274,399.5,3481],[0,7],[-0.39,5],cells);
}
// ================= 11R weekly green =================
title2(632,3247,'Weekly','#33d97a',' Planner','#111',30);
{
  const cells=[];
  cells.push(C(-1,0,-1,0,{fill:'#fff',stroke:'#aaa',text:'TIME',tc:'#222',fs:8.5,fw:'bold',ff:SF}));
  wgDays.forEach((d,i)=>cells.push(C(i,i+1,-1,0,{fill:'#fff',stroke:'#aaa',text:d,tc:'#222',fs:8.5,fw:'bold',ff:SF})));
  wsTimes.forEach((t,r)=>{
    cells.push(C(-1,0,r,r+1,{fill:'#fff',stroke:'#aaa',text:t,tc:'#444',fs:6.5}));
    wgGrid[r].forEach((k,i)=>cells.push(C(i,i+1,r,r+1,{fill:k?VIVID[VKEY[k]]:'#fff',stroke:'#aaa',text:k,tc:'#fff',fs:7.5})));
  });
  addTable([444.5,3274,818,3480],[-1,7],[-1,8],cells);
}

// ================= 12L weekly orange =================
title2(212,3548,'Weekly',BLUE_T,' Planner','#111',31);
{
  const cells=[];
  woDays.forEach((d,i)=>cells.push(C(i,i+1,-0.5,-0.07,{fill:ORANGE,stroke:'#fff',lw:1.2,text:d,tc:'#fff',fs:10.5,fw:'bold',ff:SF})));
  woTexts.forEach((row,r)=>{
    cells.push(C(-0.66,-0.25,r,r+0.93,{fill:TAB5[r],text:'Text',tc:'#fff',fs:8,fw:'bold',rot:Math.PI/2,ff:SF}));
    cells.push(C(-0.04,7,r,r+0.93,{fill:'#f0f0f0',shadow:1.5}));
    row.forEach((t,i)=>cells.push(C(i,i+1,r,r+0.93,{text:t,tc:'#444',fs:6,align:'left',px:2,lh:7.5})));
  });
  addTable([35,3579,391,3771.5],[-0.66,7],[-0.5,5],cells);
}
// ================= 12R monthly orange =================
title2(632,3548,'Monthly',TEAL_T,' Planner','#111',31);
{
  const cells=[];
  cells.push(C(-5.46,0,-0.5,-0.07,{fill:ORANGE,stroke:'#fff',lw:1.2,text:'JANUARY',tc:'#fff',fs:8,fw:'bold',ff:SF}));
  DAYS31.forEach((d,i)=>cells.push(C(i,i+1,-0.5,-0.07,{fill:ORANGE,stroke:'#fff',lw:0.8,text:d,tc:'#fff',fs:5})));
  moLabels.forEach((t,r)=>{
    cells.push(C(-8.7,-6.63,r,r+0.93,{fill:TAB5[r],text:'Text',tc:'#fff',fs:8,fw:'bold',rot:Math.PI/2,ff:SF}));
    cells.push(C(-5.46,31,r,r+0.93,{fill:'#f0f0f0',shadow:1.5}));
    cells.push(C(-5.46,6,r,r+0.93,{text:t,tc:'#444',fs:6,align:'left',px:3,lh:7.5}));
  });
  moBars.forEach(b=>cells.push(C(b[1],b[2],b[0],b[0]+0.93,{fill:TAB5[b[0]],text:b[3],tc:'#fff',fs:6,lh:7.5})));
  addTable([454,3579,810,3771.5],[-8.7,31],[-0.5,5],cells);
}

// ================= 13 annual orange =================
title2(213,3841,'Annual',BLUE_T,' Planner','#111',31);
{
  const cells=[];
  cells.push(C(-5.52,0,-0.6,-0.086,{fill:ORANGE,stroke:'#fff',lw:1.2,text:'2 0 1 9',tc:'#fff',fs:16,fw:'bold',ff:SF}));
  MONTHS.forEach((m,i)=>cells.push(C(i,i+1,-0.6,-0.086,{fill:ORANGE,stroke:'#fff',lw:1,text:m,tc:'#fff',fs:6.5})));
  aoLabels.forEach((t,r)=>{
    cells.push(C(-7.07,-6.05,r,r+0.857,{fill:TAB5[r],text:'Text',tc:'#fff',fs:8,fw:'bold',rot:Math.PI/2,ff:SF}));
    cells.push(C(-5.52,12,r,r+0.857,{fill:'#f0f0f0',shadow:1.5}));
    cells.push(C(-5.52,0,r,r+0.857,{text:t,tc:'#444',fs:6.3,align:'left',px:3,lh:7.5}));
    cells.push(C(aoStart[r],aoEnd[r],r,r+0.857,{fill:TAB5[r],text:aoText[r],tc:'#fff',fs:6,align:'left',px:7,lh:7.5}));
  });
  addTable([35,3868,391,4064],[-7.07,12],[-0.6,5],cells);
}

// ================= CHART =================
const chart=echarts.init(document.getElementById('c'),null,{renderer:'canvas'});
chart.setOption({backgroundColor:'transparent',animation:false,grid:grids,xAxis:xAxes,yAxis:yAxes,series:series,graphic:{elements:graphics}});
</script></body></html>
